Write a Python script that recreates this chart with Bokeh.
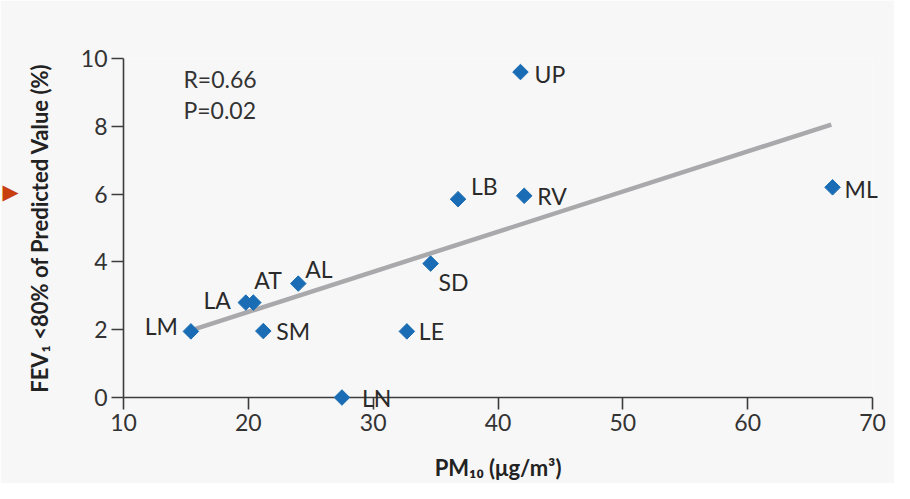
import numpy as np
from bokeh.plotting import figure
from bokeh.models import ColumnDataSource, Label, Range1d, FixedTicker
from bokeh.core.properties import value
from bokeh.embed import file_html
from bokeh.resources import INLINE

# ---- data ----
cities = ["LM", "LA", "AT", "AL", "SM", "LN", "LE", "SD", "LB", "UP", "RV", "ML"]
pm10 = [15.4, 19.8, 20.4, 24.0, 21.2, 27.5, 32.7, 34.6, 36.8, 41.8, 42.1, 66.8]
fev1_low = [1.95, 2.8, 2.8, 3.36, 1.96, 0.0, 1.95, 3.95, 5.85, 9.6, 5.95, 6.2]
fit_x = [15.4, 66.7]
fit_y = [1.98, 8.05]
x_ticks = [10, 20, 30, 40, 50, 60, 70]
y_ticks = [0, 2, 4, 6, 8, 10]
stats = ["R=0.66", "P=0.02"]

# label placement (pixels, y positive = down) per city
lab_dx = [-13, -15, 1, 7, 13, 20, 12, 8, 13, 14, 13, 12]
lab_dy = [-5, -3, -23, -15, 0, 0, 0, 18, -13, 2, 0, 2]
lab_align = ["right", "right", "left", "left", "left", "left", "left", "left",
             "left", "left", "left", "left"]

FONT = "Lato"
BG = "#f7f7f7"
AXC = "#3c3c3c"
FS = "23px"

p = figure(width=894, height=483, output_backend="svg", toolbar_location=None,
           x_range=Range1d(10, 70), y_range=Range1d(0, 10),
           background_fill_color=BG, border_fill_color=BG,
           min_border_left=123, min_border_right=22,
           min_border_top=58, min_border_bottom=86)
p.outline_line_color = None
p.grid.visible = False

for ax in (p.xaxis[0], p.yaxis[0]):
    ax.axis_line_color = AXC
    ax.axis_line_width = 1.6
    ax.major_tick_line_color = AXC
    ax.major_tick_line_width = 1.6
    ax.major_tick_out = 12
    ax.major_tick_in = 0
    ax.minor_tick_line_color = None
    ax.major_label_text_font = FONT
    ax.major_label_text_font_size = FS
    ax.major_label_text_color = "#333333"
    ax.axis_label_text_font = FONT
    ax.axis_label_text_font_style = "bold"
    ax.axis_label_text_font_size = "22px"
    ax.axis_label_text_color = "#222222"

p.xaxis.ticker = FixedTicker(ticks=x_ticks)
p.yaxis.ticker = FixedTicker(ticks=y_ticks)
p.xaxis.major_label_standoff = 4
p.yaxis.major_label_standoff = 4
p.xaxis.axis_label = "PM\u2081\u2080 (\u03bcg/m\u00b3)"
p.yaxis.axis_label = "FEV\u2081 <80% of Predicted Value (%)"
p.xaxis.axis_label_standoff = 20
p.yaxis.axis_label_standoff = 25

# regression line
p.line(fit_x, fit_y, line_color="#a9a9ac", line_width=4.5)

src = ColumnDataSource(dict(x=pm10, y=fev1_low, name=cities,
                            dx=lab_dx, dy=lab_dy, align=lab_align))
r = p.scatter("x", "y", source=src, marker="square", angle=np.pi / 4, size=11,
              fill_color="#1a6db4", line_color="#1a6db4", line_width=1)
r.level = "overlay"

t = p.text("x", "y", text="name", source=src, x_offset="dx", y_offset="dy",
           text_align="align", text_baseline=value("middle"),
           text_font=value(FONT), text_font_size=value(FS), text_color="#2a2a2a")
t.level = "overlay"

p.add_layout(Label(x=14.8, y=9.8, text=stats[0], text_baseline="top",
                   text_font=FONT, text_font_size=FS, text_color="#333333"))
p.add_layout(Label(x=14.8, y=8.9, text=stats[1], text_baseline="top",
                   text_font=FONT, text_font_size=FS, text_color="#333333"))

# small red arrow marker at the left edge of the page (decoration)
arrow = p.text(x=[1.6], y=[6.06], text=["\u25b6"], text_align="right",
               text_baseline="middle", text_font=value("DejaVu Sans"),
               text_font_size=value("21px"), text_color="#c8400f")
arrow.level = "overlay"

open("out.html", "w").write(file_html(p, INLINE))
